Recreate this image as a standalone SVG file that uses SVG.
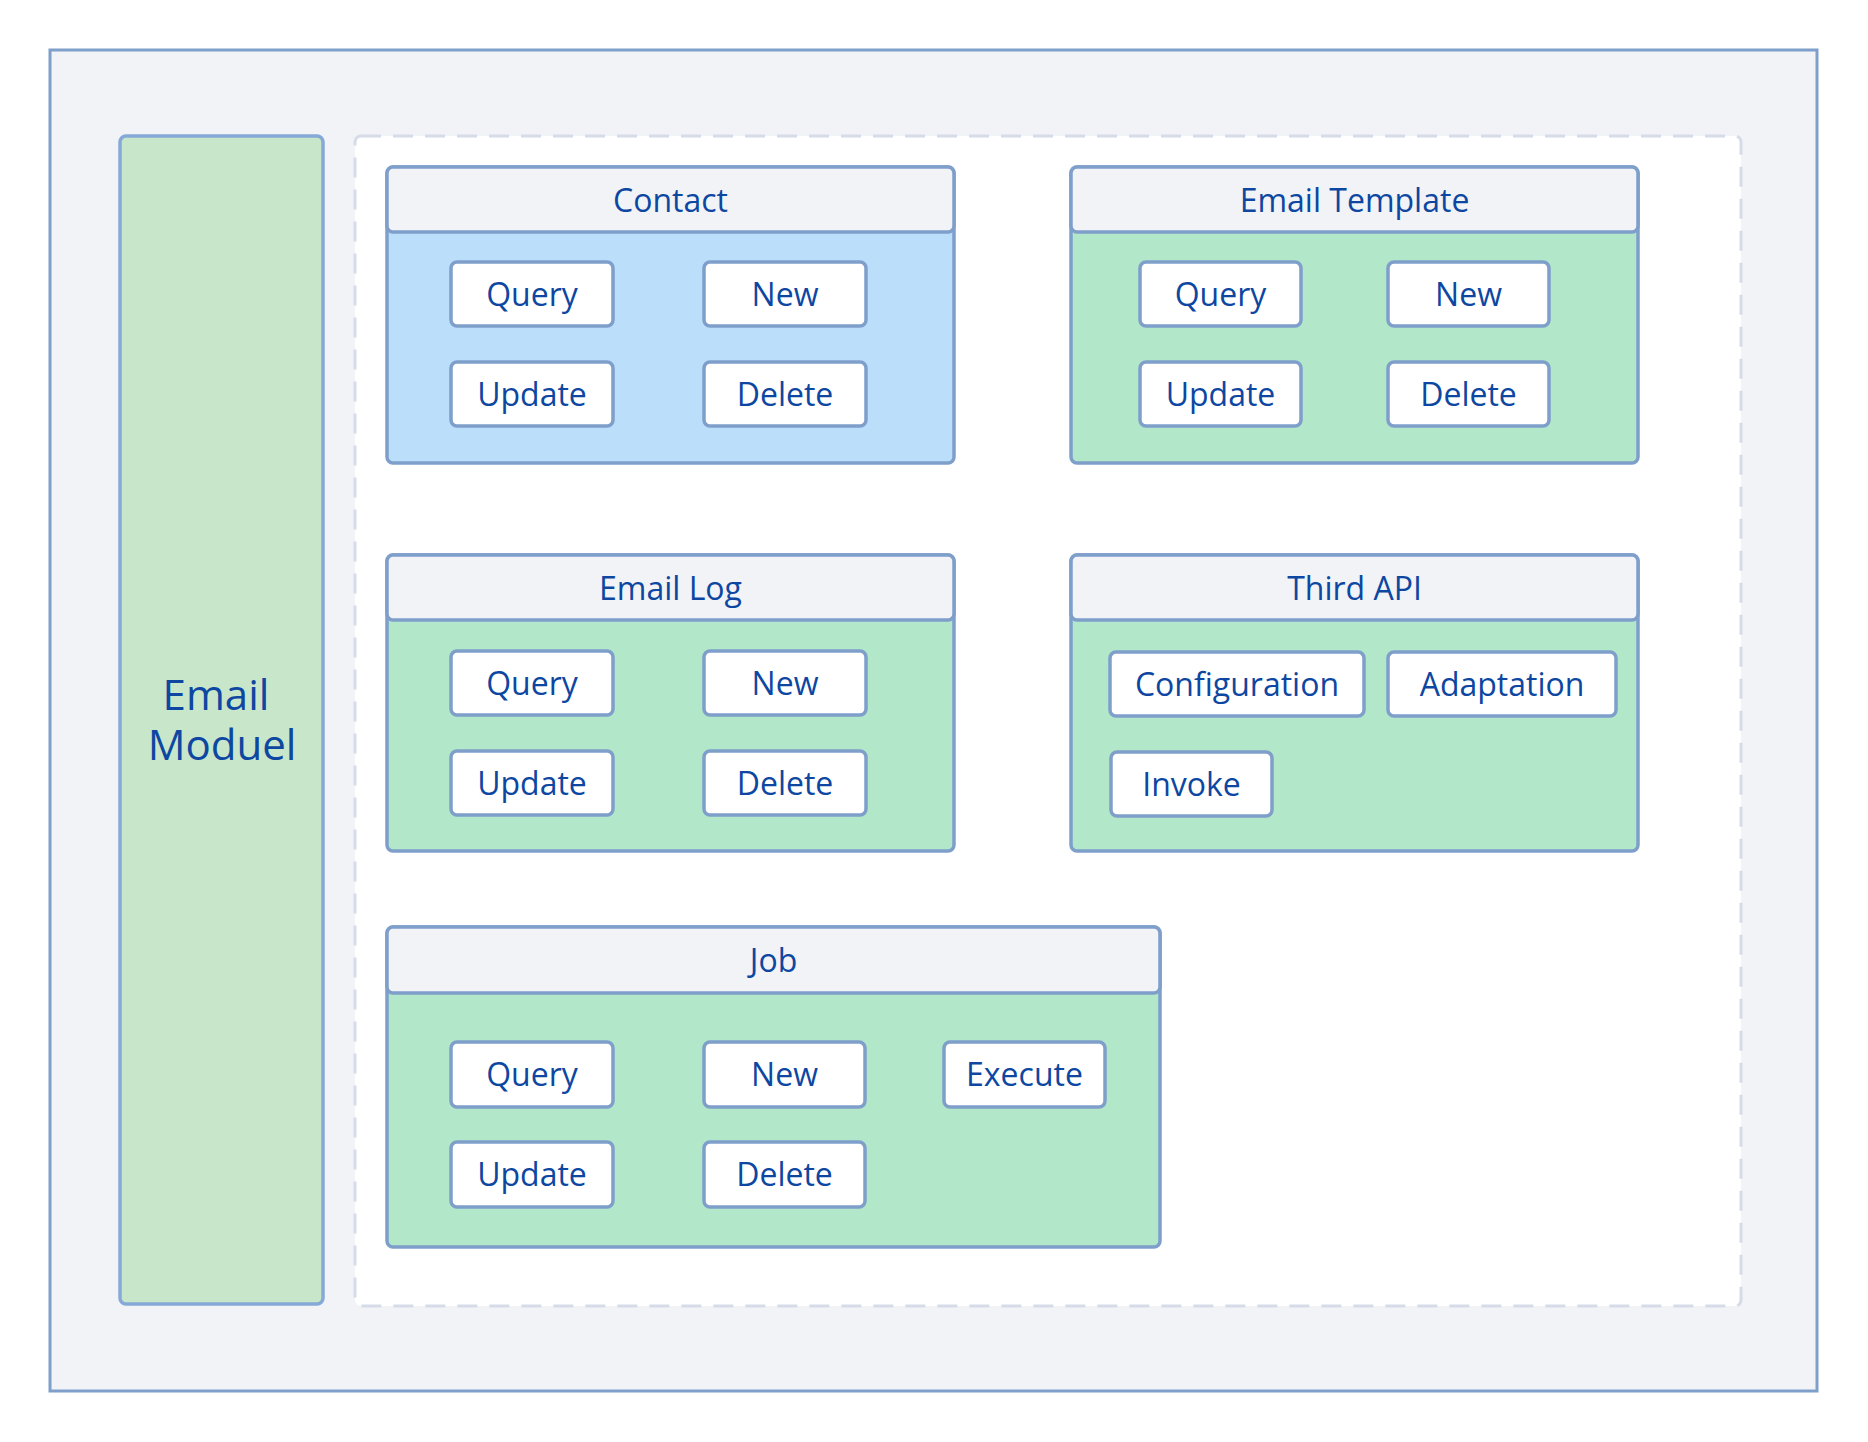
<svg xmlns="http://www.w3.org/2000/svg" width="1868" height="1442" viewBox="0 0 1868 1442">
  <style>
    .frame { fill: #f1f3f7; stroke: #7f9fcb; stroke-width: 3; }
    .side { fill: #c8e6c9; stroke: #87a9d8; stroke-width: 3.5; }
    .area { fill: #ffffff; stroke: #d5dbe7; stroke-width: 3; stroke-dasharray: 20 12; }
    .body-blue { fill: #bbdefb; stroke: #7f9fcb; stroke-width: 3.5; }
    .body-green { fill: #b3e7c9; stroke: #7f9fcb; stroke-width: 3.5; }
    .head { fill: #f1f3f7; stroke: #7f9fcb; stroke-width: 3.5; }
    .btn { fill: #ffffff; stroke: #7f9fcb; stroke-width: 3.5; }
    text { font-family: "Open Sans", "Noto Sans", "Liberation Sans", sans-serif; fill: #0d47a1; text-anchor: middle; }
    .t { font-size: 32px; }
    .big { font-size: 42px; }
  </style>

  <!-- outer frame -->
  <rect class="frame" x="50" y="50" width="1767" height="1341"/>

  <!-- module column -->
  <g id="email-moduel">
    <rect class="side" x="120" y="136" width="203" height="1168" rx="6"/>
    <text class="big" x="216" y="710">Email</text>
    <text class="big" x="222" y="760">Moduel</text>
  </g>

  <!-- dashed content area -->
  <rect class="area" x="355" y="136" width="1386" height="1170" rx="6"/>

  <!-- Contact -->
  <g id="contact">
    <rect class="body-blue" x="387" y="167" width="567" height="296" rx="6"/>
    <rect class="head" x="387" y="167" width="567" height="65" rx="6"/>
    <text class="t" x="670.5" y="212">Contact</text>
    <g id="contact-query"><rect class="btn" x="451" y="262" width="162" height="64" rx="6"/><text class="t" x="532" y="306">Query</text></g>
    <g id="contact-new"><rect class="btn" x="704" y="262" width="162" height="64" rx="6"/><text class="t" x="785" y="306">New</text></g>
    <g id="contact-update"><rect class="btn" x="451" y="362" width="162" height="64" rx="6"/><text class="t" x="532" y="406">Update</text></g>
    <g id="contact-delete"><rect class="btn" x="704" y="362" width="162" height="64" rx="6"/><text class="t" x="785" y="406">Delete</text></g>
  </g>

  <!-- Email Template -->
  <g id="email-template">
    <rect class="body-green" x="1071" y="167" width="567" height="296" rx="6"/>
    <rect class="head" x="1071" y="167" width="567" height="65" rx="6"/>
    <text class="t" x="1354.5" y="212">Email Template</text>
    <g id="template-query"><rect class="btn" x="1140" y="262" width="161" height="64" rx="6"/><text class="t" x="1220.5" y="306">Query</text></g>
    <g id="template-new"><rect class="btn" x="1388" y="262" width="161" height="64" rx="6"/><text class="t" x="1468.5" y="306">New</text></g>
    <g id="template-update"><rect class="btn" x="1140" y="362" width="161" height="64" rx="6"/><text class="t" x="1220.5" y="406">Update</text></g>
    <g id="template-delete"><rect class="btn" x="1388" y="362" width="161" height="64" rx="6"/><text class="t" x="1468.5" y="406">Delete</text></g>
  </g>

  <!-- Email Log -->
  <g id="email-log">
    <rect class="body-green" x="387" y="555" width="567" height="296" rx="6"/>
    <rect class="head" x="387" y="555" width="567" height="65" rx="6"/>
    <text class="t" x="670.5" y="600">Email Log</text>
    <g id="log-query"><rect class="btn" x="451" y="651" width="162" height="64" rx="6"/><text class="t" x="532" y="695">Query</text></g>
    <g id="log-new"><rect class="btn" x="704" y="651" width="162" height="64" rx="6"/><text class="t" x="785" y="695">New</text></g>
    <g id="log-update"><rect class="btn" x="451" y="751" width="162" height="64" rx="6"/><text class="t" x="532" y="795">Update</text></g>
    <g id="log-delete"><rect class="btn" x="704" y="751" width="162" height="64" rx="6"/><text class="t" x="785" y="795">Delete</text></g>
  </g>

  <!-- Third API -->
  <g id="third-api">
    <rect class="body-green" x="1071" y="555" width="567" height="296" rx="6"/>
    <rect class="head" x="1071" y="555" width="567" height="65" rx="6"/>
    <text class="t" x="1354.5" y="600">Third API</text>
    <g id="api-configuration"><rect class="btn" x="1110" y="652" width="254" height="64" rx="6"/><text class="t" x="1237" y="696">Configuration</text></g>
    <g id="api-adaptation"><rect class="btn" x="1388" y="652" width="228" height="64" rx="6"/><text class="t" x="1502" y="696">Adaptation</text></g>
    <g id="api-invoke"><rect class="btn" x="1111" y="752" width="161" height="64" rx="6"/><text class="t" x="1191.5" y="796">Invoke</text></g>
  </g>

  <!-- Job -->
  <g id="job">
    <rect class="body-green" x="387" y="927" width="773" height="320" rx="6"/>
    <rect class="head" x="387" y="927" width="773" height="66" rx="6"/>
    <text class="t" x="773.5" y="972">Job</text>
    <g id="job-query"><rect class="btn" x="451" y="1042" width="162" height="65" rx="6"/><text class="t" x="532" y="1086">Query</text></g>
    <g id="job-new"><rect class="btn" x="704" y="1042" width="161" height="65" rx="6"/><text class="t" x="784.5" y="1086">New</text></g>
    <g id="job-execute"><rect class="btn" x="944" y="1042" width="161" height="65" rx="6"/><text class="t" x="1024.5" y="1086">Execute</text></g>
    <g id="job-update"><rect class="btn" x="451" y="1142" width="162" height="65" rx="6"/><text class="t" x="532" y="1186">Update</text></g>
    <g id="job-delete"><rect class="btn" x="704" y="1142" width="161" height="65" rx="6"/><text class="t" x="784.5" y="1186">Delete</text></g>
  </g>

  <!-- no connectors in this layout -->
  <g id="connectors"/>
</svg>
